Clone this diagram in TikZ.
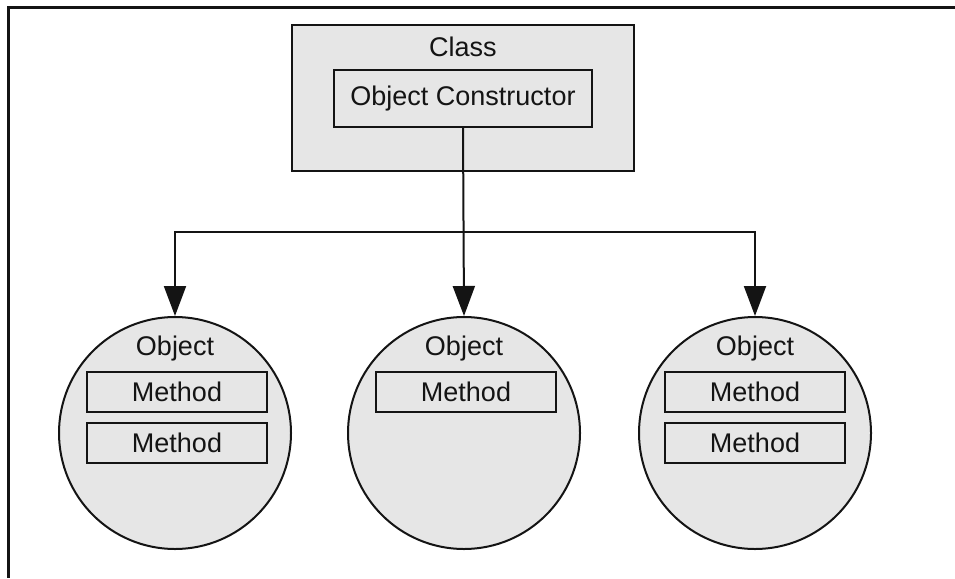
\documentclass[tikz,border=0pt]{standalone}
\usepackage{fontspec}
\setmainfont{Liberation Sans}
\usepackage{xcolor}
\definecolor{Ink}{HTML}{141414}
\definecolor{Shade}{HTML}{E6E6E6}
\usetikzlibrary{arrows.meta, positioning}

\begin{document}
\begin{tikzpicture}[x=1pt, y=-1pt, >={Triangle[length=30pt, width=22pt]},
  txt/.style={inner sep=0pt, font=\fontsize{27pt}{32pt}\selectfont, text=Ink},
  classbox/.style={rectangle, draw=Ink, line width=2pt, fill=Shade,
                   minimum width=342pt, minimum height=145pt},
  methbox/.style={rectangle, draw=Ink, line width=2pt, fill=Shade, inner sep=0pt,
                  minimum width=180pt, minimum height=40pt,
                  font=\fontsize{27pt}{32pt}\selectfont, text=Ink},
  objcirc/.style={circle, draw=Ink, line width=2pt, fill=Shade, minimum size=232pt},
  arr/.style={->, line width=2pt, color=Ink},
  frame/.style={line width=3pt, color=Ink}
]
\useasboundingbox (0,0) rectangle (955,578);

%% ---- outer frame (top and left only) ----
\draw[frame] (955,8) -- (8,8) -- (8,578);

%% ---- Class ----
\node[classbox] (cls) at (463,98) {};
\node[txt] (clsname) at (463,47) {Class};
\node[methbox, minimum width=258pt, minimum height=57pt] (ctor) at (463,98.5) {Object Constructor};

%% ---- Objects ----
\node[objcirc] (objA) at (175,433) {};
\node[objcirc] (objB) at (464,433) {};
\node[objcirc] (objC) at (755,433) {};

\node[txt] (nameA) at (175,349) {Object};
\node[txt] (nameB) at (464,349) {Object};
\node[txt] (nameC) at (755,349) {Object};

\node[methbox] (methA1) at (177,392) {Method};
\node[methbox] (methA2) at (177,443) {Method};
\node[methbox] (methB1) at (466,392) {Method};
\node[methbox] (methC1) at (755,392) {Method};
\node[methbox] (methC2) at (755,443) {Method};

%% ---- Arrows ----
\coordinate (split) at (464,232);
\draw[arr] (ctor.south) -- (objB.north);
\draw[arr] (split) -| (objA.north);
\draw[arr] (split) -| (objC.north);

\end{tikzpicture}
\end{document}
